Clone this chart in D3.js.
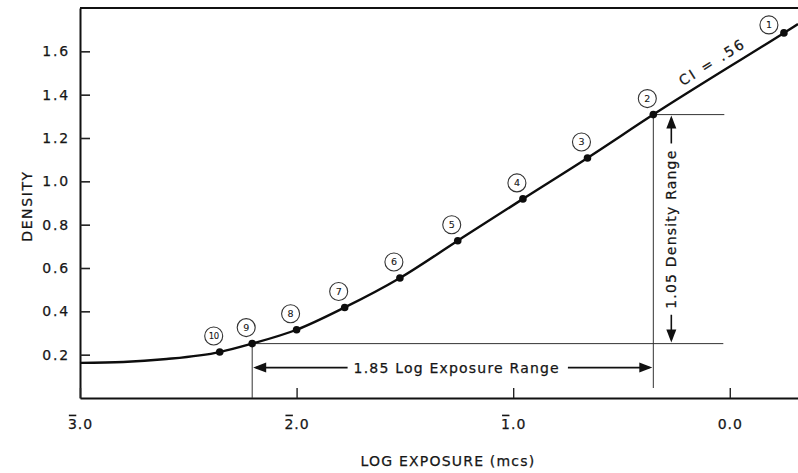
<!DOCTYPE html>
<html>
<head>
<meta charset="utf-8">
<script src="https://cdn.jsdelivr.net/npm/d3@7"></script>
<style>
  html, body { margin: 0; padding: 0; background: #fff; }
  svg { display: block; }
  text { font-family: "DejaVu Sans", sans-serif; fill: #161616; stroke: #161616; stroke-width: 0.25px; }
</style>
</head>
<body>
<svg id="chart" width="798" height="473"></svg>
<script>
// ---- data ----
const stepIds      = [1, 2, 3, 4, 5, 6, 7, 8, 9, 10];
const stepLogE     = [0.25, -0.353, -0.657, -0.955, -1.256, -1.523, -1.778, -2.0, -2.205, -2.355];
const stepDensity  = [1.685, 1.308, 1.108, 0.919, 0.726, 0.554, 0.418, 0.315, 0.251, 0.212];

// traced characteristic curve (toe, through steps, to the right edge)
const curveLogE    = [-3.0, -2.8, -2.6, -2.355, -2.205, -2.0, -1.778, -1.523, -1.256, -0.955, -0.657, -0.353, 0.25, 0.315];
const curveDensity = [0.162, 0.166, 0.180, 0.212, 0.251, 0.315, 0.418, 0.554, 0.726, 0.919, 1.108, 1.308, 1.685, 1.726];

const yTicks = [0.2, 0.4, 0.6, 0.8, 1.0, 1.2, 1.4, 1.6];
const xTicks = [-3, -2, -1, 0];
const xTickLabels = ["3.0", "2.0", "1.0", "0.0"];
const xTickBarred = [true, true, true, false];   // bar (negative characteristic) notation

const rangeLowStep = 9, rangeHighStep = 2;
const logRangeLabel = "1.85 Log Exposure Range";
const densityRangeLabel = "1.05 Density Range";
const ciLabel = "CI = .56";
const xTitle = "LOG EXPOSURE (mcs)";
const yTitle = "DENSITY";

(function () {
// ---- layout ----
const mLeft = 80, mRight = 798, mTop = 8, mBottom = 398;
const svg = d3.select("#chart");

const x = d3.scaleLinear().domain([-3, 0.315]).range([mLeft, mRight]);
const y = d3.scaleLinear().domain([0, 1.8]).range([mBottom, mTop]);

// frame top line
svg.append("line")
  .attr("x1", mLeft).attr("x2", mRight).attr("y1", mTop).attr("y2", mTop)
  .attr("stroke", "#111").attr("stroke-width", 2);

// y axis
const gy = svg.append("g").attr("transform", `translate(${mLeft},0)`)
  .call(d3.axisLeft(y).tickValues(yTicks).tickSize(-10).tickSizeOuter(0).tickPadding(10)
        .tickFormat(d3.format(".1f")));
gy.select(".domain").attr("stroke", "#111").attr("stroke-width", 2);
gy.selectAll(".tick line").attr("stroke", "#222").attr("stroke-width", 1.6);
gy.selectAll(".tick text").attr("font-size", 14).attr("letter-spacing", 1.8).attr("fill", "#161616");

// x axis
const gx = svg.append("g").attr("transform", `translate(0,${mBottom})`)
  .call(d3.axisBottom(x).tickValues(xTicks).tickSize(-10).tickSizeOuter(0).tickPadding(21)
        .tickFormat((d, i) => xTickLabels[i]));
gx.select(".domain").attr("stroke", "#111").attr("stroke-width", 2);
gx.selectAll(".tick line").attr("stroke", "#222").attr("stroke-width", 1.4);
gx.selectAll(".tick text").attr("font-size", 14).attr("letter-spacing", 1).attr("fill", "#161616");
// overbars on the characteristic digit
gx.selectAll(".tick").each(function (d, i) {
  if (!xTickBarred[i]) return;
  const t = d3.select(this).select("text").node();
  const ext = t.getExtentOfChar(0);
  d3.select(this).append("line")
    .attr("x1", ext.x + 1).attr("x2", ext.x + ext.width - 1.5)
    .attr("y1", ext.y - 0.5).attr("y2", ext.y - 0.5)
    .attr("stroke", "#161616").attr("stroke-width", 1.6);
});

// axis titles
svg.append("text")
  .attr("x", 448).attr("y", 466).attr("text-anchor", "middle")
  .attr("font-size", 14).attr("letter-spacing", 1.2)
  .text(xTitle);
svg.append("text")
  .attr("transform", `translate(32,206) rotate(-90)`)
  .attr("text-anchor", "middle")
  .attr("font-size", 14).attr("letter-spacing", 1.6)
  .text(yTitle);

// ---- annotation lines ----
const idx = id => stepIds.indexOf(id);
const xLo = x(stepLogE[idx(rangeLowStep)]), yLo = y(stepDensity[idx(rangeLowStep)]);
const xHi = x(stepLogE[idx(rangeHighStep)]), yHi = y(stepDensity[idx(rangeHighStep)]);
const ann = svg.append("g").attr("stroke", "#333").attr("stroke-width", 1).attr("fill", "none");
ann.append("line").attr("x1", xLo).attr("x2", xHi + 70).attr("y1", yLo).attr("y2", yLo);
ann.append("line").attr("x1", xHi).attr("x2", xHi + 71).attr("y1", yHi).attr("y2", yHi);
ann.append("line").attr("x1", xLo).attr("x2", xLo).attr("y1", yLo).attr("y2", mBottom);
ann.append("line").attr("x1", xHi).attr("x2", xHi).attr("y1", yHi).attr("y2", mBottom - 10);

function arrowHead(g, tx, ty, dir) {
  const L = 13, h = 5;
  let pts;
  if (dir === "left") pts = [[tx, ty], [tx + L, ty - h], [tx + L, ty + h]];
  if (dir === "right") pts = [[tx, ty], [tx - L, ty - h], [tx - L, ty + h]];
  if (dir === "up") pts = [[tx, ty], [tx - h, ty + L], [tx + h, ty + L]];
  if (dir === "down") pts = [[tx, ty], [tx - h, ty - L], [tx + h, ty - L]];
  g.append("path").attr("d", d3.line()(pts) + "Z").attr("fill", "#111").attr("stroke", "none");
}

// horizontal log exposure range
const hy = yLo + 24;
const hText = svg.append("text")
  .attr("x", (xLo + xHi) / 2 + 4).attr("y", hy).attr("dy", "0.36em")
  .attr("text-anchor", "middle").attr("font-size", 14).attr("letter-spacing", 1.2)
  .text(logRangeLabel);
const hb = hText.node().getBBox();
const hArrow = svg.append("g");
hArrow.append("line").attr("x1", xLo + 4).attr("x2", hb.x - 6).attr("y1", hy).attr("y2", hy)
  .attr("stroke", "#111").attr("stroke-width", 1.6);
hArrow.append("line").attr("x1", hb.x + hb.width + 8).attr("x2", xHi - 4).attr("y1", hy).attr("y2", hy)
  .attr("stroke", "#111").attr("stroke-width", 1.6);
arrowHead(hArrow, xLo + 1, hy, "left");
arrowHead(hArrow, xHi - 1, hy, "right");

// vertical density range
const vx = xHi + 18;
const vMid = (yHi + yLo) / 2;
const vText = svg.append("text")
  .attr("transform", `translate(${vx},${vMid}) rotate(-90)`)
  .attr("dy", "0.36em").attr("text-anchor", "middle")
  .attr("font-size", 14).attr("letter-spacing", 1.2)
  .text(densityRangeLabel);
const vlen = vText.node().getComputedTextLength();
const vArrow = svg.append("g");
vArrow.append("line").attr("x1", vx).attr("x2", vx).attr("y1", yHi + 4).attr("y2", vMid - vlen / 2 - 6)
  .attr("stroke", "#111").attr("stroke-width", 1.6);
vArrow.append("line").attr("x1", vx).attr("x2", vx).attr("y1", vMid + vlen / 2 + 6).attr("y2", yLo - 4)
  .attr("stroke", "#111").attr("stroke-width", 1.6);
arrowHead(vArrow, vx, yHi + 1, "up");
arrowHead(vArrow, vx, yLo - 1, "down");

// ---- characteristic curve ----
const curvePts = curveLogE.map((v, i) => [v, curveDensity[i]]);
svg.append("path")
  .datum(curvePts)
  .attr("fill", "none").attr("stroke", "#0d0d0d").attr("stroke-width", 2.4)
  .attr("d", d3.line().x(d => x(d[0])).y(d => y(d[1])).curve(d3.curveMonotoneX));

// CI label along the straight line
const i1 = idx(1), i2 = idx(2);
const ang = Math.atan2(y(stepDensity[i1]) - y(stepDensity[i2]), x(stepLogE[i1]) - x(stepLogE[i2])) * 180 / Math.PI;
svg.append("text")
  .attr("transform", `translate(${x(-0.05) - 4},${y(1.495) - 8}) rotate(${ang})`)
  .attr("text-anchor", "middle").attr("font-size", 14).attr("letter-spacing", 2.4)
  .text(ciLabel);

// step markers
const steps = stepIds.map((id, i) => ({ id, e: stepLogE[i], d: stepDensity[i] }));
svg.selectAll("circle.pt").data(steps).enter().append("circle")
  .attr("class", "pt")
  .attr("cx", d => x(d.e)).attr("cy", d => y(d.d)).attr("r", 3.8)
  .attr("fill", "#0d0d0d");

// numbered circle labels
const lbl = svg.selectAll("g.lbl").data(steps).enter().append("g")
  .attr("class", "lbl")
  .attr("transform", d => d.id === 1
      ? `translate(${x(d.e) - 15},${y(d.d) - 8})`
      : `translate(${x(d.e) - 6},${y(d.d) - 16})`);
lbl.append("circle").attr("r", 9).attr("fill", "#fff").attr("stroke", "#333").attr("stroke-width", 1.1);
lbl.append("text").attr("text-anchor", "middle").attr("dy", "0.35em")
  .attr("font-size", d => d.id === 10 ? 8.5 : 9.5)
  .attr("letter-spacing", d => d.id === 10 ? -0.5 : 0)
  .style("stroke-width", "0.1px")
  .text(d => d.id);
})();
</script>
</body>
</html>
